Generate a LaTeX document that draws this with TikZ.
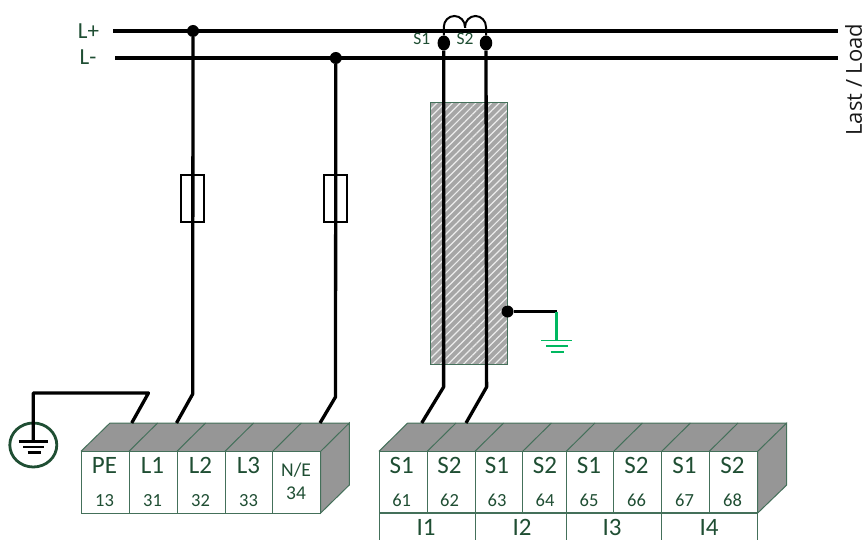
\documentclass[tikz,border=0pt]{standalone}
\usepackage{fontspec}
\setmainfont{Carlito}
\newfontfamily\loadfont{Open Sans}
\usetikzlibrary{patterns.meta,shapes.geometric}
\definecolor{termgreen}{HTML}{1F4E33}
\definecolor{edgegreen}{HTML}{44705A}
\definecolor{earthgreen}{HTML}{00B860}
\definecolor{topgray}{HTML}{969696}
\tikzset{
  wire/.style={line width=3.3pt,black,line join=round},
  edgeline/.style={line width=1pt,edgegreen},
  sidefill/.style={edgeline,fill=topgray},
  fuse/.style={draw=black,line width=2pt,fill=white,minimum width=23pt,minimum height=47pt,inner sep=0pt},
  shield/.style={draw=edgegreen,line width=1pt,minimum width=76.5pt,minimum height=261pt,inner sep=0pt,fill=topgray!85},
  joint/.style={circle,fill=black,minimum size=12pt,inner sep=0pt},
  blob/.style={ellipse,fill=black,minimum width=12.5pt,minimum height=15pt,inner sep=0pt},
  earthring/.style={ellipse,draw=termgreen,line width=2.8pt,minimum width=47pt,minimum height=44pt,inner sep=0pt},
  lab/.style={text=termgreen,anchor=base,inner sep=0pt},
  big/.style={lab,font=\fontsize{25}{25}\selectfont},
  small/.style={lab,font=\fontsize{18.5}{18.5}\selectfont},
  midsize/.style={lab,font=\fontsize{19.5}{19.5}\selectfont},
  mini/.style={lab,font=\fontsize{17.5}{17.5}\selectfont},
}
\begin{document}
\begin{tikzpicture}[x=1pt,y=-1pt]
  \useasboundingbox (0,0) rectangle (866,540);

  % shield of the current transformer
  \node[shield] (shield) at (469,233.5) {};
  \path[pattern={Lines[angle=45,distance=5.5pt,line width=1.2pt]},pattern color=white!85!gray]
    (shield.north west) rectangle (shield.south east);
  \draw[draw=edgegreen,line width=1pt] (shield.north west) rectangle (shield.south east);

  % fuses
  \node[fuse] (fuseA) at (192.7,198) {};
  \node[fuse] (fuseB) at (335.8,198) {};

  % left terminal block
  \fill[topgray] (81,451.3) -- (110,423) -- (349.3,423) -- (320.7,451.3) -- cycle;
  \draw[sidefill] (320.7,451.3) -- (349.3,423) -- (349.3,485) -- (320.7,513) -- cycle;
  \draw[edgeline] (81,451.3) -- (110,423) -- (349.3,423);
  \foreach \xa in {129,177,225,272.7}
    \draw[edgeline] (\xa,451.3) -- (\xa+28.6,423);
  \draw[edgeline,fill=white] (81,451.3) rectangle (320.7,513);
  \foreach \xa in {129,177,225,272.7}
    \draw[edgeline] (\xa,451.3) -- (\xa,513);
  \foreach \xa/\name/\num in {104.5/PE/13,152.5/L1/31,200.5/L2/32,248.5/L3/33}{
    \node[big] (lab\num) at (\xa,473.3) {\name};
    \node[small] (num\num) at (\xa,506) {\num};
  }
  \node[midsize] (lab34) at (296,476.7) {N/E};
  \node[midsize] (num34) at (296,499.3) {34};

  % right terminal block
  \fill[topgray] (379,451.3) -- (407.7,423) -- (786.7,423) -- (757.7,451.3) -- cycle;
  \draw[sidefill] (757.7,451.3) -- (786.7,423) -- (786.7,485) -- (757.7,513) -- cycle;
  \draw[edgeline] (379,451.3) -- (407.7,423) -- (786.7,423);
  \foreach \xa in {427.3,475,522.7,566.3,613.7,661.7,709.3}
    \draw[edgeline] (\xa,451.3) -- (\xa+28.7,423);
  \draw[edgeline,fill=white] (379,451.3) rectangle (757.7,513);
  \foreach \xa in {427.3,475,522.7,566.3,613.7,661.7,709.3}
    \draw[edgeline] (\xa,451.3) -- (\xa,513);
  \foreach \xa/\name/\num in {401.7/S1/61,449.5/S2/62,497/S1/63,545/S2/64,589/S1/65,636.5/S2/66,684.5/S1/67,732.5/S2/68}{
    \node[big] (lab\num) at (\xa,473.3) {\name};
    \node[small] (num\num) at (\xa,506) {\num};
  }

  % input groups below the block
  \draw[edgeline,line width=1.4pt] (379,513) -- (757.7,513);
  \foreach \xa in {379,475,566.3,661.7,757.7}
    \draw[edgeline] (\xa,513) -- (\xa,540);
  \foreach \xa/\name in {426/I1,522/I2,612/I3,709/I4}
    \node[big] (grp\name) at (\xa,535) {\name};

  % bus bars
  \coordinate (plusL) at (113,31);
  \coordinate (plusR) at (838,31);
  \coordinate (minusL) at (115,58);
  \coordinate (minusR) at (838,58);
  \draw[wire] (plusL) -- (plusR);
  \draw[wire] (minusL) -- (minusR);
  \node[lab,font=\fontsize{23}{23}\selectfont] (lplus) at (88.5,39) {L+};
  \node[lab,font=\fontsize{23}{23}\selectfont] (lminus) at (88,65) {L-};
  \node[rotate=90,font=\loadfont\fontsize{22}{22}\selectfont,text=black!90,inner sep=0pt] (load) at (853.5,79.5) {Last / Load};

  % feeds to the left block
  \node[joint] (jA) at (193,31) {};
  \node[joint] (jB) at (335.8,58) {};
  \coordinate (bendA) at (192.7,394);
  \coordinate (endA) at (176.5,423);
  \coordinate (bendB) at (335.5,397);
  \coordinate (endB) at (320,423);
  \draw[wire] (jA) -- (bendA) -- (endA);
  \draw[wire] (jB) -- (bendB) -- (endB);

  % earth at PE
  \coordinate (endPE) at (131.7,423);
  \coordinate (bendPE) at (148.5,393);
  \coordinate (cornerPE) at (33.3,393);
  \node[earthring] (earthPE) at (33.3,445) {};
  \coordinate (barPE) at (33.3,441.7);
  \draw[wire] (endPE) -- (bendPE) -- (cornerPE) -- (barPE);
  \draw[line width=2.6pt] (18.5,441.7) -- (48.3,441.7);
  \draw[line width=2.6pt] (23,447) -- (43.5,447);
  \draw[line width=2.6pt] (27.7,452.3) -- (40.7,452.3);

  % current transformer
  \node[blob] (blobA) at (443.8,43) {};
  \node[blob] (blobB) at (486,43) {};
  \coordinate (bendC) at (443.6,387);
  \coordinate (endC) at (421.7,423);
  \coordinate (bendD) at (486.6,387);
  \coordinate (endD) at (466,423);
  \draw[wire] (blobA) -- (bendC) -- (endC);
  \draw[wire] (blobB) -- (bendD) -- (endD);
  \draw[line width=2pt] (blobA.north) -- (443.8,27) arc[start angle=180,end angle=360,x radius=10.6,y radius=11] -- (465,28);
  \draw[line width=2pt] (465,28) -- (465,27) arc[start angle=180,end angle=360,x radius=10.5,y radius=11] -- (blobB.north);
  \node[mini] (lS1) at (421.7,45) {S1};
  \node[mini] (lS2) at (465,45) {S2};

  % earth at the shield
  \node[joint] (jS) at (507.5,311.5) {};
  \coordinate (cornerS) at (556.5,311.5);
  \coordinate (footS) at (556.5,340.5);
  \draw[wire] (jS) -- (cornerS);
  \draw[earthgreen,line width=2.6pt] (cornerS) -- (footS);
  \draw[earthgreen,line width=1.8pt] (541,340.5) -- (571.5,340.5);
  \draw[earthgreen,line width=1.8pt] (546,346) -- (568,346);
  \draw[earthgreen,line width=1.8pt] (550.5,351.7) -- (564,351.7);
\end{tikzpicture}
\end{document}
